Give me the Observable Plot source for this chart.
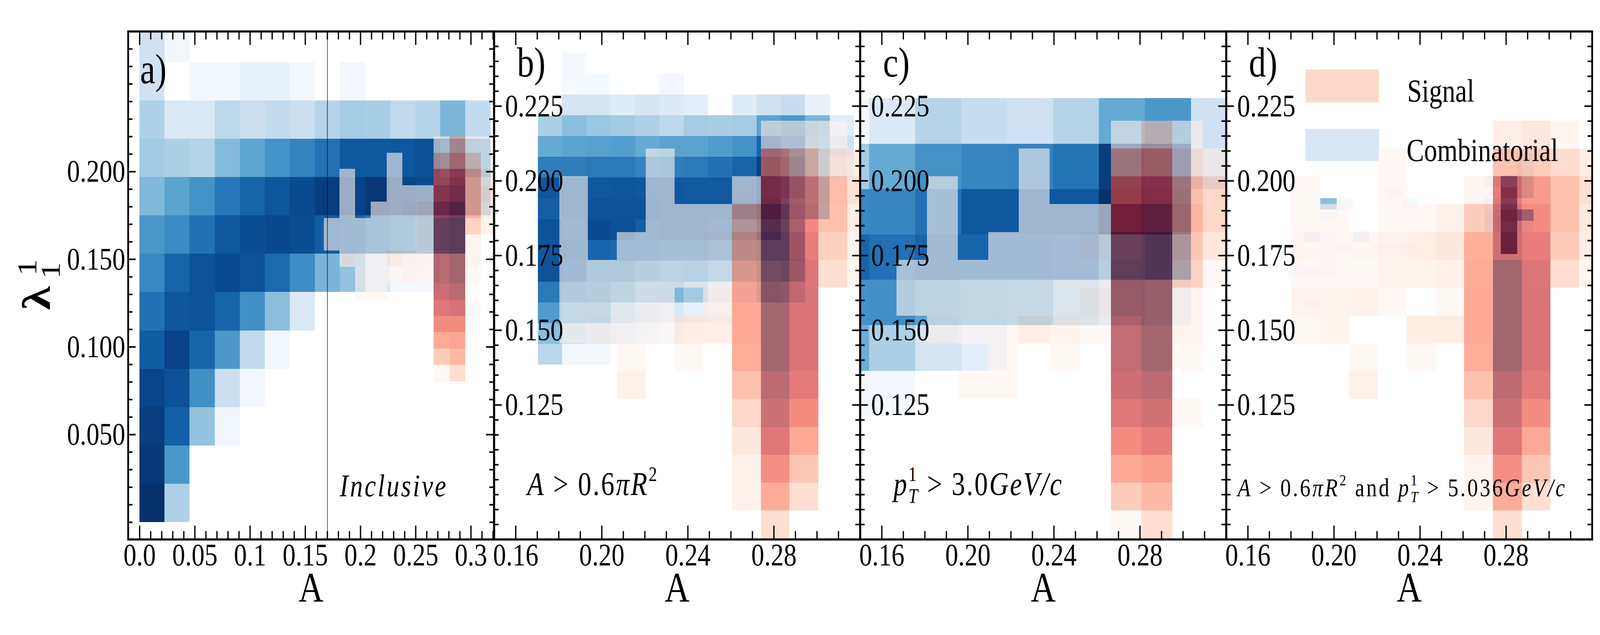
<!DOCTYPE html>
<html>
<head>
<meta charset="utf-8">
<script src="https://cdn.jsdelivr.net/npm/d3@7"></script>
<script src="https://cdn.jsdelivr.net/npm/@observablehq/plot@0.6"></script>
<style>
html,body{margin:0;padding:0;background:#fff;height:1625px;overflow:hidden}
#row{display:flex;flex-direction:row;align-items:flex-start;width:5000px;transform-origin:0 0}
svg{display:block;flex:none;overflow:visible;max-width:none!important}
svg text{white-space:pre}
</style>
</head>
<body>
<div id="row"></div>
<script>
const _ = null;
/* normalised bin contents, rows from the lowest y bin upward, empty bins are null */
const blueA = [
 [1,.32],
 [.97,.6],
 [.95,.82,.4,.03],
 [.92,.88,.63,.22,.02],
 [.83,.93,.8,.6,.25,.03],
 [.75,.86,.87,.8,.63,.42,.14],
 [.66,.8,.87,.9,.87,.78,.64,.47,.4,.15,.02,.02],
 [.6,.65,.75,.85,.89,.91,.89,.83,.8,.72,.66,.6,.6],
 [.45,.55,.62,.73,.8,.86,.9,.95,.93,.97,.92,.9,.9,.4],
 [.36,.33,.3,.44,.54,.62,.68,.75,.85,.85,.85,.88,.8,.55],
 [.32,.15,.15,.27,.22,.26,.22,.3,.35,.34,.26,.3,.46,.25],
 [.2,_,.02,.02,.08,.08,.02,_,.02],
 [.2,.03]
];
const redA = [
 [_,_,_,_,_,_,_,.01,.2],
 [_,_,_,_,_,_,_,.3,.4],
 [_,_,_,_,_,_,_,.47,.5],
 [_,_,_,_,_,_,_,.62,.62],
 [_,_,_,_,_,_,_,.75,.8,.01],
 [_,_,.01,.01,_,_,_,.86,.93],
 [_,_,0,0,0,.04,.01,.93,1,.01],
 [_,.06,.01,0,.1,.06,.03,.93,1,.04],
 [0,0,0,0,0,0,.06,.97,1,.06],
 [0,0,0,0,0,0,.06,.97,1,.27,.06],
 [_,0,_,0,0,.04,.1,.85,.93,.45,.1],
 [_,0,_,_,0,0,0,.7,.8,.45,.15],
 [_,0,_,_,0,_,_,.6,.72,.46,.1],
 [_,_,_,_,0,_,_,.3,.5,.27,0],
 [_,_,_,_,_,_,_,.03,.35,.04,0]
];
const blueB = [
 [.28,.02,.02],
 [.42,.28,.2,.12,.08,.02],
 [.58,.5,.5,.3,.2,.15,.08,.05],
 [.72,.65,.62,.55,.45,.46,.36,.15,.1,.3,.25],
 [.87,.8,.66,.66,.6,.55,.58,.5,.35,.45,.5],
 [.86,.85,.8,.78,.78,.75,.75,.7,.55,.6,.6],
 [.87,.8,.9,.88,.82,.85,.85,.82,.65,.8,.6],
 [.82,.85,.87,.87,.87,.85,.85,.85,.85,.95,.7,.5],
 [.85,.85,.85,.86,.85,.85,.84,.84,.82,.9,.8,.5],
 [.7,.7,.72,.72,.68,.7,.72,.75,.8,.95,.8,.45,.1],
 [.52,.55,.56,.57,.52,.55,.55,.58,.62,.8,.7,.45,.2],
 [.33,.42,.38,.36,.32,.27,.35,.34,.35,.55,.6,.47,.12],
 [_,.18,.18,.12,.17,.13,.1,_,.12,.2,.23,.08],
 [_,.01,.01,_,_,.02],
 [_,.02]
];
const redB = [
 [_,_,_,_,_,_,_,.2],
 [_,_,_,_,_,_,.07,.47,.2],
 [_,_,_,_,_,_,.07,.6,.33],
 [_,_,_,_,_,_,.15,.75,.48],
 [_,_,_,_,_,_,.24,.85,.62],
 [_,_,.08,_,_,_,.36,.92,.72],
 [_,_,.01,_,.01,_,.46,1,.78],
 [0,.03,.01,0,.11,.1,.48,1,.78],
 [0,0,0,0,_,.05,.48,1,.78],
 [0,0,0,0,0,0,.47,1,.77,.2,.03],
 [0,_,0,0,0,.04,.45,1,.7,.28,.06],
 [0,_,_,0,0,0,.35,.95,.63,.36,.1],
 [0,_,_,0,_,_,.03,.8,.6,.38,.18],
 [_,_,_,0,_,_,_,.5,.35,.15,.1],
 [_,_,_,_,_,_,_,.06,.06,.01]
];
const blueC = [
 [.02,.02],
 [.5,.33,.17,.1],
 [.62,.63,.55,.52,.5,.35,.22,.12],
 [.8,.75,.8,.8,.8,.78,.6,.68],
 [.66,.67,.75,.85,.85,.85,1,.95],
 [.35,.52,.62,.67,.68,.74,.95,.9,.2],
 [.02,.14,.3,.24,.2,.3,.52,.6,.2]
];
const redC = [
 [_,_,_,_,_,_,_,_,.01,.2],
 [_,_,_,_,_,_,_,_,.3,.4],
 [_,_,_,_,_,_,_,_,.48,.53],
 [_,_,_,_,_,_,_,_,.62,.7],
 [_,_,_,_,_,_,_,_,.75,.83,.01],
 [_,_,_,.01,.01,_,_,_,.85,.92],
 [_,_,_,_,.01,_,.01,_,.9,1,.01],
 [_,_,.04,0,.01,.1,.06,.01,.9,1,.04],
 [_,0,0,0,0,0,0,.06,.97,1,.05],
 [_,0,0,0,0,0,0,0,.98,1,.27,.01],
 [_,_,0,_,0,0,.01,.06,.95,1,.33,.15],
 [_,_,0,_,_,0,0,0,.82,.9,.42,.24],
 [_,_,0,_,_,0,_,_,.6,.72,.38,.24],
 [_,_,_,_,_,0,_,_,.35,.5,.15,.06],
 [_,_,_,_,_,_,_,_,.03,.25,.03]
];
const blueD = [
 [_,.02],
 [],
 [],
 [.01,.02,.01],
 [_,_,.01],
 [_,_,.01,.01,_,.01,.01,.01,_,_,_,_,_,.98],
 [_,.1,.01,_,.08,_,_,_,_,_,_,_,_,.97],
 [_,_,_,_,_,_,_,_,_,_,_,_,.15,.9,.1],
 [_,_,.01,_,_,_,_,_,_,_,_,_,.15,.98,.65],
 [_,_,.42,.01,_,_,_,.01,_,_,_,_,.08,.85],
 [_,_,_,_,_,_,.01,_,_,_,_,_,_,.95,.3],
 [_,_,_,_,_,_,_,_,_,_,_,_,.08,.8,.3],
 [_,_,_,_,_,_,_,_,_,_,_,_,_,_,.1],
 [_,_,_,_,_,_,_,_,_,_,_,_,_,_,.1]
];
const redD = [
 [_,_,_,_,_,_,_,.2],
 [_,_,_,_,_,_,.05,.47,.2],
 [_,_,_,_,_,_,.05,.6,.33],
 [_,_,_,_,_,_,.15,.75,.48],
 [_,_,_,_,_,_,.24,.85,.62],
 [_,_,.08,_,_,_,.36,.92,.72],
 [_,_,.01,_,.01,_,.46,1,.78],
 [.01,.06,_,_,.11,.11,.48,1,.78],
 [.06,.06,.07,.01,_,.01,.48,1,.78],
 [.01,.01,.01,.06,.06,.08,.47,1,.77,.2,.03],
 [.03,.01,.03,.07,.1,.15,.45,.85,.7,.3,.1],
 [.01,.01,_,.01,.01,.07,.3,.8,.62,.36,.13],
 [.01,_,_,.01,_,_,.03,.7,.55,.36,.2],
 [_,_,_,.01,_,_,_,.35,.3,.22,.1],
 [_,_,_,_,_,_,_,.1,.15,.03]
];
/* bin grids: first x edge, x width, first y edge, y height */
const gridBlueA = [0,.0227,0,.02187];
const gridRedA  = [.1668,.01424,.0803,.00932];
const gridBlueB = [.1703,.0113,.1384,.00696];
const gridRedB  = [.1803,.01338,.0803,.00932];
const gridBlueC = [.1329,.02135,.1212,.0152];
const gridRedC  = [.1526,.01424,.0803,.00932];
const gridBlueD = [.1785,.00762,.1567,.00374];
const gridRedD  = [.1803,.01338,.0803,.00932];
/* axes */
const xDomainA = [-.0104,.3208], yDomainA = [-.0098,.28];
const xDomainB = [.15,.32],      yDomainB = [.08,.25];
const xMajorA = [0,.05,.1,.15,.2,.25,.3];
const xLabelA = ["0.0","0.05","0.1","0.15","0.2","0.25","0.3"];
const xMinorA = [.01,.02,.03,.04,.06,.07,.08,.09,.11,.12,.13,.14,.16,.17,.18,.19,.21,.22,.23,.24,.26,.27,.28,.29,.31,.32];
const yMajorA = [.05,.1,.15,.2];
const yMinorA = [0,.01,.02,.03,.04,.06,.07,.08,.09,.11,.12,.13,.14,.16,.17,.18,.19,.21,.22,.23,.24,.25,.26,.27];
const xMajorB = [.16,.2,.24,.28];
const xMinorB = [.15,.17,.18,.19,.21,.22,.23,.25,.26,.27,.29,.3,.31];
const xExtraB = [.32];
const yMajorB = [.125,.15,.175,.2,.225];
const yMinorB = [.085,.09,.095,.1,.105,.11,.115,.12,.13,.135,.14,.145,.155,.16,.165,.17,.18,.185,.19,.195,.205,.21,.215,.22,.23,.235,.24,.245];
const cutLine = [.17];
/* text */
const captionA = [["Inclusive","i"]];
const captionB = [["A","i"],[" > 0.6",""],["πR","i"],["2","s"]];
const captionC = [["p","i"],["1","s"],["T","b"],[" > 3.0",""],["GeV/c","i"]];
const captionD = [["A","i"],[" > 0.6",""],["πR","i"],["2","s"],[" and ",""],["p","i"],["1","s"],["T","b"],[" > 5.036",""],["GeV/c","i"]];
const legendNames = ["Signal","Combinatorial"];
const legendColors = ["#fdd9cc","#d9e6f4"];

const H = 1625, MT = 80, MB = 245, FH = H-MT-MB, FW = 1143;
const serif = "Liberation Serif";

function cells(rows, g){
  const out = [];
  rows.forEach((r,k)=>r.forEach((v,j)=>{
    if(v!==null) out.push({x1:g[0]+j*g[1],x2:g[0]+(j+1)*g[1],y1:g[2]+k*g[3],y2:g[2]+(k+1)*g[3],v});
  }));
  return out;
}
function setMath(svg, segs, fs, spacing){
  const plain = segs.map(s=>s[0]).join("");
  d3.select(svg).selectAll("text").filter(function(){return this.textContent===plain;}).each(function(){
    this.textContent = "";
    let shift = 0;
    const t = d3.select(this).attr("letter-spacing",spacing);
    for(const [txt,kind] of segs){
      const ts = t.append("tspan").text(txt);
      const small = kind==="s"||kind==="b";
      const target = kind==="s"?-.42*fs:kind==="b"?.24*fs:0;
      ts.attr("dy",target-shift); shift = target;
      if(small) ts.attr("font-size",.62*fs);
      if(kind==="b") ts.attr("dx",-.31*fs-spacing);
      if(kind==="i"||kind==="b") ts.attr("font-style","italic");
    }
  });
}
function panel(o){
  const hf = {stroke:"#000",strokeWidth:4};
  const X = d=>d;
  const marks = [
    Plot.rect(cells(o.blue,o.gb),{x1:"x1",x2:"x2",y1:"y1",y2:"y2",fill:d=>d3.interpolateBlues(d.v),shapeRendering:"crispEdges",clip:true}),
    Plot.rect(cells(o.red,o.gr),{x1:"x1",x2:"x2",y1:"y1",y2:"y2",fill:d=>d3.interpolateReds(d.v),fillOpacity:.6,shapeRendering:"crispEdges",clip:true}),
    ...(o.extra||[]),
    Plot.axisX(o.xMajor,{anchor:"bottom",tickSize:0,tickPadding:9,fontSize:81,fontFamily:serif,fill:"#000",label:null,
      tickFormat:o.xFormat}),
    Plot.axisY(o.yMajor,{anchor:"left",tickSize:0,tickPadding:o.yPad,textAnchor:"end",fontSize:81,fontFamily:serif,fill:"#000",label:null,
      tickFormat:d3.format(".3f")}),
    Plot.tickX(o.xMajor.concat(o.xExtra||[]),{x:X,insetTop:FH-35,...hf}),
    Plot.tickX(o.xMajor.concat(o.xExtra||[]),{x:X,insetBottom:FH-35,...hf}),
    Plot.tickX(o.xMinor,{x:X,insetTop:FH-21,...hf}),
    Plot.tickX(o.xMinor,{x:X,insetBottom:FH-21,...hf}),
    Plot.tickY(o.yMajor,{y:X,insetRight:FW-24,...hf}),
    Plot.tickY(o.yMajor,{y:X,insetLeft:FW-24,...hf}),
    Plot.tickY(o.yMinor,{y:X,insetRight:FW-14,...hf}),
    Plot.tickY(o.yMinor,{y:X,insetLeft:FW-14,...hf}),
    Plot.text(["A"],{frameAnchor:"bottom",dy:159,lineAnchor:"bottom",fontSize:108,fontFamily:serif,fill:"#000"}),
    Plot.text([o.tag],{frameAnchor:"top-left",dx:o.tagX,dy:o.tagY,lineAnchor:"bottom",textAnchor:"start",fontSize:107,fontFamily:serif,fill:"#000"}),
    Plot.text([o.caption.map(s=>s[0]).join("")],{frameAnchor:"bottom-left",dx:o.capX,dy:o.capY,lineAnchor:"bottom",textAnchor:"start",fontSize:o.capSize,fontFamily:serif,fill:"#000"}),
    Plot.frame({stroke:"#000",strokeWidth:5.5})
  ];
  const svg = Plot.plot({
    width:o.width,height:H,marginTop:MT,marginBottom:MB,marginLeft:o.ml,marginRight:o.mr,
    x:{domain:o.xd},y:{domain:o.yd},
    style:{background:"transparent",overflow:"visible"},
    marks
  });
  setMath(svg,o.caption,o.capSize,o.capSpace);
  document.getElementById("row").appendChild(svg);
}
const fmtB = d3.format(".2f");
panel({width:1544,ml:400,mr:1,xd:xDomainA,yd:yDomainA,blue:blueA,red:redA,gb:gridBlueA,gr:gridRedA,
  xMajor:xMajorA,xMinor:xMinorA,yMajor:yMajorA,yMinor:yMinorA,xFormat:d=>xLabelA[xMajorA.indexOf(d)],yPad:9,
  tag:"a)",tagX:37,tagY:132,caption:captionA,capX:661,capY:-111,capSize:80,capSpace:5.5,
  extra:[
    Plot.ruleX(cutLine,{stroke:"#000",strokeWidth:1.5}),
    Plot.text(["λ"],{frameAnchor:"left",dx:-244,dy:63,rotate:-90,lineAnchor:"bottom",textAnchor:"start",fontSize:124,fontWeight:"bold",fontFamily:serif,fill:"#000"}),
    Plot.text(["1"],{frameAnchor:"left",dx:-287,dy:-25,rotate:-90,lineAnchor:"bottom",textAnchor:"start",fontSize:84,fontFamily:serif,fill:"#000"}),
    Plot.text(["1"],{frameAnchor:"left",dx:-214,dy:-17,rotate:-90,lineAnchor:"bottom",textAnchor:"start",fontSize:84,fontFamily:serif,fill:"#000"})
  ]});
panel({width:1144,ml:0,mr:1,xd:xDomainB,yd:yDomainB,blue:blueB,red:redB,gb:gridBlueB,gr:gridRedB,
  xMajor:xMajorB,xExtra:xExtraB,xMinor:xMinorB,yMajor:yMajorB,yMinor:yMinorB,xFormat:fmtB,yPad:-216,
  tag:"b)",tagX:71,tagY:115,caption:captionB,capX:103,capY:-114,capSize:84,capSpace:4.5});
panel({width:1144,ml:0,mr:1,xd:xDomainB,yd:yDomainB,blue:blueC,red:redC,gb:gridBlueC,gr:gridRedC,
  xMajor:xMajorB,xExtra:xExtraB,xMinor:xMinorB,yMajor:yMajorB,yMinor:yMinorB,xFormat:fmtB,yPad:-216,
  tag:"c)",tagX:71,tagY:115,caption:captionC,capX:104,capY:-114,capSize:84,capSpace:4.2});
panel({width:1168,ml:0,mr:25,xd:xDomainB,yd:yDomainB,blue:blueD,red:redD,gb:gridBlueD,gr:gridRedD,
  xMajor:xMajorB,xExtra:xExtraB,xMinor:xMinorB,yMajor:yMajorB,yMinor:yMinorB,xFormat:fmtB,yPad:-216,
  tag:"d)",tagX:70,tagY:115,caption:captionD,capX:35,capY:-111,capSize:66,capSpace:5.8,
  extra:[
    Plot.rect([legendNames[0]],{fill:legendColors[0],insetLeft:248,insetRight:FW-477,insetTop:98,insetBottom:1118}),
    Plot.rect([legendNames[1]],{fill:legendColors[1],insetLeft:248,insetRight:FW-477,insetTop:250,insetBottom:968}),
    Plot.text([legendNames[0]],{frameAnchor:"top-left",dx:565,dy:179,lineAnchor:"bottom",textAnchor:"start",fontSize:82,fontFamily:serif,fill:"#000"}),
    Plot.text([legendNames[1]],{frameAnchor:"top-left",dx:563,dy:331,lineAnchor:"bottom",textAnchor:"start",fontSize:82,fontFamily:serif,fill:"#000"})
  ]});
/* the chart is laid out on the reference's 5000 px width; fit that width to the actual window */
document.getElementById("row").style.transform = `scaleX(${Math.min(1,window.innerWidth/5000)})`;
</script>
</body>
</html>
